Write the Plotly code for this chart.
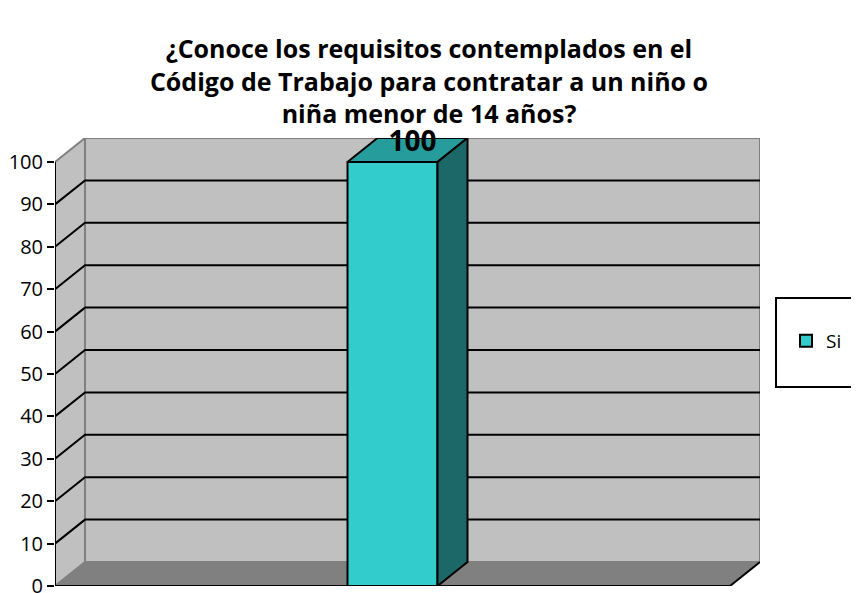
import plotly.graph_objects as go

title = ("¿Conoce los requisitos contemplados en el<br>"
         "Código de Trabajo para contratar a un niño o<br>"
         "niña menor de 14 años?")
categories = ["Si"]
values = [100]
y_ticks = [0, 10, 20, 30, 40, 50, 60, 70, 80, 90, 100]

# pseudo 3d depth (axis units) and bar width
DX = 30 / 675
DY = 24 / 4.24
BAR_W = 90 / 675

FONT = "Century Gothic, Open Sans, sans-serif"
# page body has an 8px margin, so the figure is drawn 8px smaller
W, H, PAD = 851, 585, 8
xs = list(range(len(categories)))
x0, x1 = -0.5, len(categories) - 0.5
ymax = max(y_ticks)

shapes = []
wall = dict(type="path", xref="x", yref="y", layer="below")
# back wall, side wall, floor
shapes.append(dict(wall, path=f"M{x0+DX},{DY} L{x1+DX},{DY} L{x1+DX},{ymax+DY} L{x0+DX},{ymax+DY} Z",
                   fillcolor="#C0C0C0", line=dict(color="#808080", width=2)))
shapes.append(dict(wall, path=f"M{x0},0 L{x0+DX},{DY} L{x0+DX},{ymax+DY} L{x0},{ymax} Z",
                   fillcolor="#C0C0C0", line=dict(color="#808080", width=2)))
shapes.append(dict(wall, path=f"M{x0},0 L{x1},0 L{x1+DX},{DY} L{x0+DX},{DY} Z",
                   fillcolor="#808080", line=dict(color="#808080", width=1)))
# gridlines folded over side and back wall
for v in y_ticks[1:-1]:
    shapes.append(dict(wall, path=f"M{x0},{v} L{x0+DX},{v+DY} L{x1+DX},{v+DY}",
                       line=dict(color="black", width=2)))
# front edges
shapes.append(dict(wall, path=f"M{x0},{ymax} L{x0},0 L{x1},0 L{x1+DX},{DY}",
                   line=dict(color="black", width=2)))

fig = go.Figure()
fig.add_trace(go.Bar(x=xs, y=values, width=BAR_W, name=categories[0],
                     marker=dict(color="#33CCCC", line=dict(color="black", width=2))))
for x, v in zip(xs, values):
    l, r = x - BAR_W / 2, x + BAR_W / 2
    # top face
    fig.add_trace(go.Scatter(x=[l, r, r + DX, l + DX, l], y=[v, v, v + DY, v + DY, v],
                             fill="toself", fillcolor="#269C9C", mode="lines",
                             line=dict(color="black", width=2), showlegend=False, hoverinfo="skip"))
    # side face
    fig.add_trace(go.Scatter(x=[r, r + DX, r + DX, r, r], y=[0, DY, v + DY, v, 0],
                             fill="toself", fillcolor="#1C6868", mode="lines",
                             line=dict(color="black", width=2), showlegend=False, hoverinfo="skip"))
    fig.add_trace(go.Scatter(x=[x + DX * 0.67], y=[v + DY * 0.75], mode="text", cliponaxis=False,
                             text=[f"<b>{v}</b>"], textfont=dict(family=FONT, size=28, color="black"),
                             showlegend=False, hoverinfo="skip"))

fig.update_layout(
    width=W, height=H,
    margin=dict(l=55 - PAD, r=W - (55 - PAD) - 705, t=138 - PAD, b=7),
    paper_bgcolor="white", plot_bgcolor="white",
    title=dict(text=f"<b>{title}</b>", x=(429 - PAD) / W, xref="container", xanchor="center",
               y=1 - 50 / H, yanchor="middle",
               font=dict(family=FONT, size=25, color="black")),
    xaxis=dict(range=[x0, x1 + DX], visible=False),
    yaxis=dict(range=[0, ymax + DY], tickvals=y_ticks, ticks="outside", ticklen=7, tickwidth=2,
               tickcolor="black", showgrid=False, zeroline=False, showline=False, automargin=False,
               ticklabeloverflow="allow",
               tickfont=dict(family=FONT, size=20, color="black")),
    shapes=shapes,
    showlegend=True,
    legend=dict(x=(786 - 55) / 705, xanchor="left", y=(586 - 341) / 448, yanchor="middle",
                font=dict(family=FONT, size=19, color="black"), bgcolor="rgba(0,0,0,0)"),
)
# legend frame
fig.add_shape(type="rect", xref="paper", yref="paper",
              x0=(776 - 55) / 705, x1=(870 - 55) / 705,
              y0=(586 - 387) / 448, y1=(586 - 298) / 448,
              line=dict(color="black", width=2), fillcolor="white", layer="below")

fig.write_html("out.html")
